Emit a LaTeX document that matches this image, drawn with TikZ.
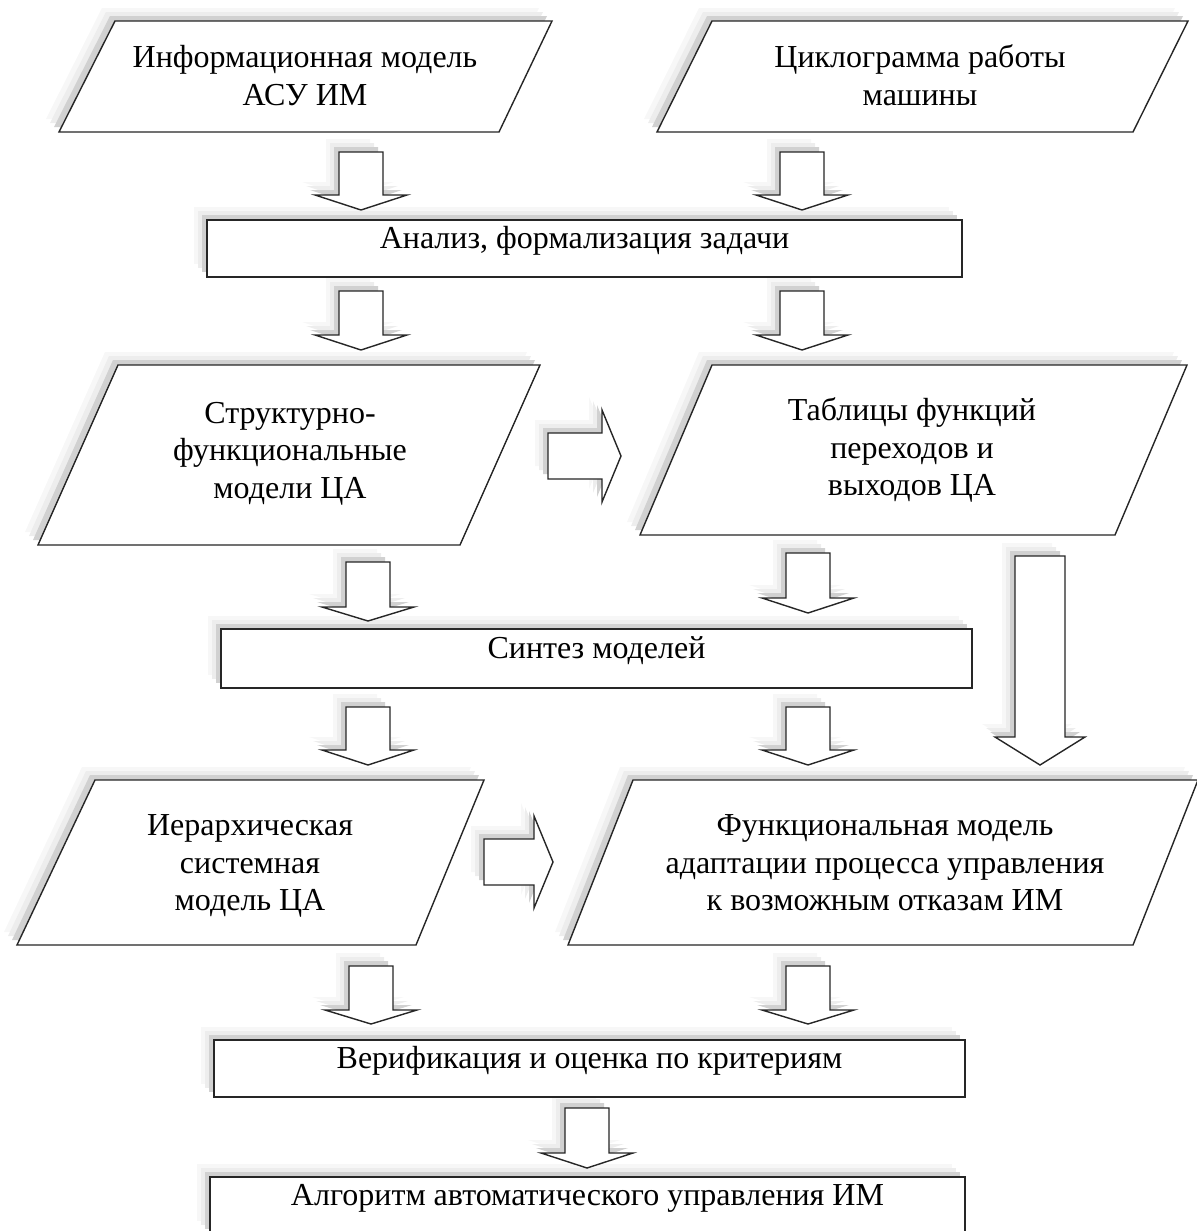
\documentclass[tikz,border=0pt]{standalone}
\usepackage{fontspec}
\setmainfont{Liberation Serif}
\usetikzlibrary{shadows}

\tikzset{
  shd/.style={general shadow={shadow xshift=-6.5pt,shadow yshift=6.5pt,draw=none,fill=gray!6},
              general shadow={shadow xshift=-4.5pt,shadow yshift=4.5pt,draw=none,fill=gray!14},
              general shadow={shadow xshift=-2.5pt,shadow yshift=2.5pt,draw=none,fill=gray!36}},
  frame/.style={draw=black!85,line width=0.7pt,fill=white,shd},
  txt/.style={align=center,font=\fontsize{16}{18.8}\selectfont},
  stage/.style={frame,rectangle,txt,inner sep=0pt,text height=10.5pt,text depth=10.5pt},
}

% block arrows: down {cx}{top}{shaft end}{tip},  right {left}{head base}{tip}{cy}
\newcommand{\darr}[4]{\draw[frame] (#1-22,#2) -- (#1+22,#2) -- (#1+22,#3) -- (#1+46,#3) -- (#1,#4) -- (#1-46,#3) -- (#1-22,#3) -- cycle;}
\newcommand{\rarr}[4]{\draw[frame] (#1,#4-23) -- (#2,#4-23) -- (#2,#4-46) -- (#3,#4) -- (#2,#4+46) -- (#2,#4+23) -- (#1,#4+23) -- cycle;}

\begin{document}
\begin{tikzpicture}[x=0.5pt,y=-0.5pt]
  \useasboundingbox (0,0) rectangle (1196,1231);

  % drawn from the bottom up, so every shadow stays under the shape above it
  \node[stage,minimum width=377.5pt,minimum height=28.5pt] (algo) at (587.5,1205.5) {Алгоритм автоматического управления ИМ};
  \darr{587}{1108}{1153}{1168}
  \node[stage,minimum width=375.5pt,minimum height=28.5pt] (verif) at (589.5,1068.5) {Верификация и оценка по критериям};
  \darr{371}{966}{1010}{1024}
  \darr{808}{966}{1010}{1024}

  \draw[frame] (95,780) -- (484,780) -- (416,945) -- (17,945) -- cycle;
  \node[txt] (hier) at (250,866) {Иерархическая\\системная\\модель ЦА};
  \draw[frame] (633,780) -- (1198,780) -- (1133,945) -- (568,945) -- cycle;
  \node[txt] (adapt) at (885,863) {Функциональная модель\\адаптации процесса управления\\к возможным отказам ИМ};
  \rarr{484}{534}{553}{862}
  \darr{368}{707}{750}{765}
  \darr{808}{707}{750}{765}
  \draw[frame] (1015,556) -- (1065,556) -- (1065,737) -- (1085,737) -- (1040,765) -- (995,737) -- (1015,737) -- cycle;

  \node[stage,minimum width=375.5pt,minimum height=29.5pt] (synt) at (596.5,658.5) {Синтез моделей};
  \darr{368}{562}{607}{621}
  \darr{808}{553}{598}{613}

  % models
  \draw[frame] (118,365) -- (540,365) -- (460,545) -- (38,545) -- cycle;
  \node[txt] (sfm) at (290,453.5) {Структурно-\\функциональные\\модели ЦА};
  \draw[frame] (712,365) -- (1187,365) -- (1115,535) -- (640,535) -- cycle;
  \node[txt] (tabl) at (912,450) {Таблицы функций\\переходов и\\выходов ЦА};
  \rarr{548}{602}{621}{456}
  \darr{361}{291}{335}{350}
  \darr{802}{291}{335}{350}

  \node[stage,minimum width=377.5pt,minimum height=28.5pt] (anal) at (584.5,248.5) {Анализ, формализация задачи};
  \darr{361}{152}{195}{210}
  \darr{802}{152}{195}{210}

  % inputs
  \draw[frame] (115,21) -- (552,21) -- (499,132) -- (59,132) -- cycle;
  \node[txt] (infmod) at (305,75.5) {Информационная модель\\АСУ ИМ};
  \draw[frame] (712,21) -- (1188,21) -- (1133,132) -- (657,132) -- cycle;
  \node[txt] (cyclo) at (920,75.5) {Циклограмма работы\\машины};
\end{tikzpicture}
\end{document}
